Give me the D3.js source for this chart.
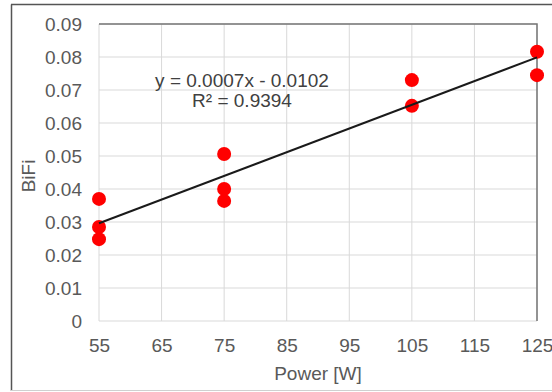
<!DOCTYPE html>
<html><head><meta charset="utf-8">
<script src="https://cdn.jsdelivr.net/npm/d3@7"></script>
<style>
html,body{margin:0;padding:0;background:#fff;}
svg{display:block;font-family:"Liberation Sans",Arial,sans-serif;}
</style></head>
<body><svg id="c" width="552" height="392"></svg>
<script>
const powerW = [55, 55, 55, 75, 75, 75, 105, 105, 125, 125];
const bifi   = [0.037, 0.0285, 0.0248, 0.0506, 0.040, 0.0364, 0.073, 0.0652, 0.0816, 0.0745];
const xTicks = [55, 65, 75, 85, 95, 105, 115, 125];
const yTicks = [0, 0.01, 0.02, 0.03, 0.04, 0.05, 0.06, 0.07, 0.08, 0.09];
const eqText = "y = 0.0007x - 0.0102";
const r2Text = "R\u00b2 = 0.9394";

const svg = d3.select("#c");
const L = 99, R = 537, T = 24, B = 321;
const x = d3.scaleLinear().domain([55, 125]).range([L, R]);
const y = d3.scaleLinear().domain([0, 0.09]).range([B, T]);
const txt = "#595959";
const fs = 19;

// outer frame
svg.append("line").attr("x1",11.5).attr("x2",11.5).attr("y1",4.5).attr("y2",391).attr("stroke","#555").attr("stroke-width",1.5);
svg.append("line").attr("x1",11).attr("x2",552).attr("y1",4.5).attr("y2",4.5).attr("stroke","#555").attr("stroke-width",1.5);
svg.append("line").attr("x1",11).attr("x2",552).attr("y1",390.5).attr("y2",390.5).attr("stroke","#d0d0d0").attr("stroke-width",1);

// gridlines
const grid = svg.append("g");
grid.selectAll(".gx").data(xTicks).join("line")
  .attr("x1", d=>x(d)).attr("x2", d=>x(d)).attr("y1", T).attr("y2", B)
  .attr("stroke", "#d9d9d9").attr("stroke-width", 1);
grid.selectAll(".gy").data(yTicks).join("line")
  .attr("x1", L).attr("x2", R).attr("y1", d=>y(d)).attr("y2", d=>y(d))
  .attr("stroke", "#d9d9d9").attr("stroke-width", 1);
// top/right dark frame
svg.append("path").attr("d", `M${L},${T}H${R}V${B}`).attr("fill","none").attr("stroke","#767676").attr("stroke-width",1.5);

// axes (labels only)
const xAxis = d3.axisBottom(x).tickValues(xTicks).tickSize(0).tickPadding(0).tickFormat(d3.format("d"));
const gx = svg.append("g").attr("transform", `translate(0,${B})`).call(xAxis);
gx.select(".domain").remove();
gx.selectAll("text").attr("dy", null).attr("y", 31).attr("fill", txt).attr("font-size", fs).attr("font-family","Liberation Sans, Arial, sans-serif");

const yAxis = d3.axisLeft(y).tickValues(yTicks).tickSize(0).tickPadding(0).tickFormat(d => d === 0 ? "0" : d3.format(".2f")(d));
const gy = svg.append("g").attr("transform", `translate(82,0)`).call(yAxis);
gy.select(".domain").remove();
gy.selectAll("text").attr("fill", txt).attr("font-size", fs).attr("dy","0.35em").attr("font-family","Liberation Sans, Arial, sans-serif");

// axis titles
svg.append("text").attr("x", 318).attr("y", 380).attr("text-anchor","middle")
  .attr("fill", txt).attr("font-size", fs).text("Power [W]");
svg.append("text").attr("transform","translate(35,176) rotate(-90)").attr("text-anchor","middle")
  .attr("fill", txt).attr("font-size", fs).text("BiFi");

// trendline (least squares)
const n = powerW.length;
const mx = d3.mean(powerW), my = d3.mean(bifi);
let sxy = 0, sxx = 0;
for (let i = 0; i < n; i++) { sxy += (powerW[i]-mx)*(bifi[i]-my); sxx += (powerW[i]-mx)**2; }
const slope = sxy / sxx, icpt = my - slope*mx;
const x0 = d3.min(powerW), x1 = d3.max(powerW);

// points
svg.selectAll(".pt").data(powerW.map((p,i)=>({p, v:bifi[i]}))).join("circle")
  .attr("cx", d=>x(d.p)).attr("cy", d=>y(d.v)).attr("r", 7).attr("fill", "#ff0000");

svg.append("line").attr("x1", x(x0)).attr("y1", y(slope*x0+icpt))
  .attr("x2", x(x1)).attr("y2", y(slope*x1+icpt))
  .attr("stroke", "#1a1a1a").attr("stroke-width", 2);

// equation
svg.append("text").attr("x", 242).attr("y", 87).attr("text-anchor","middle").attr("fill","#404040").attr("font-size", fs).text(eqText);
svg.append("text").attr("x", 242).attr("y", 107).attr("text-anchor","middle").attr("fill","#404040").attr("font-size", fs).text(r2Text);
</script></body></html>
